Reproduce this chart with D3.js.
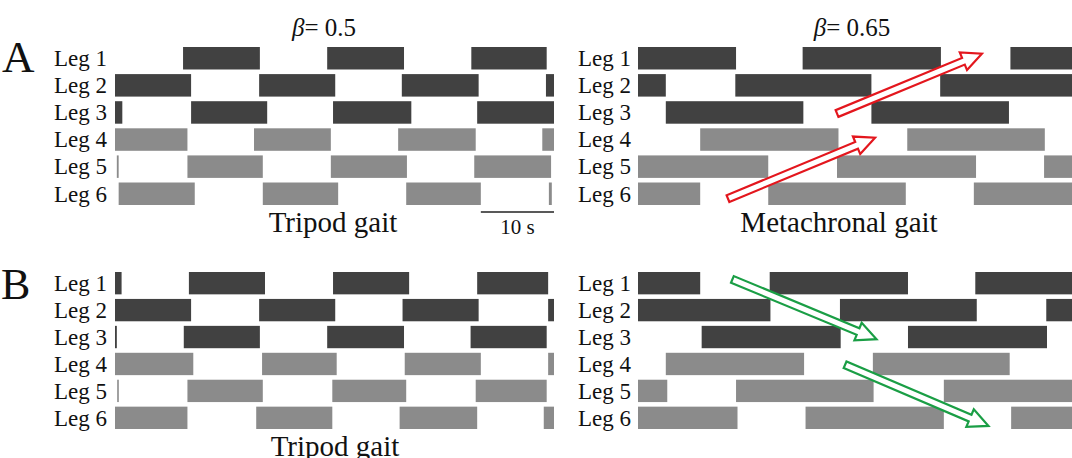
<!DOCTYPE html>
<html>
<head>
<meta charset="utf-8">
<script src="https://cdn.jsdelivr.net/npm/d3@7"></script>
<style>
  body { margin: 0; background: #fff; }
  svg { display: block; font-family: "Liberation Serif", "Times New Roman", serif; }
</style>
</head>
<body>
<div id="chart"></div>
<script>
// SVG dimensions
var svgWidth = 1072;
var svgHeight = 458;

// Legs (rows) and panel titles
var legs = ["Leg 1", "Leg 2", "Leg 3", "Leg 4", "Leg 5", "Leg 6"];
var betas = ["0.5", "0.65"];
var gaitNamesA = ["Tripod gait", "Metachronal gait"];
var gaitNamesB = ["Tripod gait", ""];

// Stance intervals [start, end] in seconds, one list per leg
var aTripod = [
  [[9.3, 19.8], [29.0, 39.5], [48.7, 59.0]],
  [[0, 10.4], [19.7, 30.1], [39.2, 49.7], [58.9, 60]],
  [[0, 1.0], [10.4, 20.8], [29.8, 40.5], [49.5, 60]],
  [[0, 9.9], [19.0, 29.5], [38.7, 49.3], [58.4, 60]],
  [[0.25, 0.5], [9.9, 20.2], [29.5, 39.9], [49.1, 59.6]],
  [[0.5, 10.9], [20.2, 30.5], [39.8, 50.0], [59.3, 59.7]]
];
var aMetachronal = [
  [[0, 13.4], [22.5, 41.4], [50.9, 60]],
  [[0, 3.8], [13.3, 31.9], [41.3, 60]],
  [[3.8, 22.6], [31.9, 50.7]],
  [[8.5, 27.4], [36.8, 55.6]],
  [[0, 17.8], [27.2, 46.2], [55.5, 60]],
  [[0, 8.5], [17.8, 36.6], [45.9, 60]]
];
var bTripod = [
  [[0, 0.9], [10.1, 20.5], [29.8, 40.2], [49.5, 59.2]],
  [[0, 10.4], [19.7, 30.1], [39.3, 49.7], [59.2, 60]],
  [[0, 0.25], [9.4, 19.8], [29.0, 39.5], [48.6, 59.0]],
  [[0, 10.7], [20.1, 30.3], [39.6, 50.0], [59.2, 60]],
  [[0.3, 0.5], [9.9, 20.2], [29.7, 39.8], [49.3, 59.0]],
  [[0, 9.9], [19.3, 29.7], [38.9, 49.5], [58.6, 60]]
];
var bMetachronal = [
  [[0, 8.5], [18.0, 36.9], [46.1, 60]],
  [[0, 18.1], [27.6, 46.3], [55.8, 60]],
  [[8.7, 27.7], [36.9, 55.9]],
  [[3.8, 22.7], [32.1, 50.8]],
  [[0, 4.0], [13.4, 32.2], [41.8, 60]],
  [[0, 13.6], [22.9, 41.8], [51.0, 60]]
];

// Wave arrows [t0, legPos0, t1, legPos1] (legPos 0 = Leg 1 centre)
var redArrows = [[27.2, 2.04, 47.0, -0.17], [12.3, 5.18, 32.4, 2.93]];
var greenArrows = [[12.9, -0.14, 32.6, 2.08], [28.3, 3.03, 47.9, 5.3]];

var darkGrey = "#414141";
var lightGrey = "#8b8b8b";

var svg = d3.select("#chart")
  .append("svg")
  .attr("width", svgWidth)
  .attr("height", svgHeight);

// x scales, one per column (60 s each)
var xLeft = d3.scaleLinear().domain([0, 60]).range([115, 554]);
var xRight = d3.scaleLinear().domain([0, 60]).range([638, 1077]);

// y scales, one per row of panels
var yA = d3.scaleBand().domain(legs).range([47, 205]).paddingInner(0.17);
var yB = d3.scaleBand().domain(legs).range([272, 429]).paddingInner(0.17);

function drawPanel(intervals, xScale, yScale, labelX) {
  var g = svg.append("g");

  // leg labels
  g.selectAll("text.leg")
    .data(legs)
    .enter()
    .append("text")
    .attr("class", "leg")
    .attr("x", labelX)
    .attr("y", d => yScale(d) + yScale.bandwidth() / 2)
    .attr("dy", "0.34em")
    .attr("text-anchor", "end")
    .attr("font-size", 23)
    .attr("fill", "#111")
    .text(d => d);

  // stance bars
  intervals.forEach(function(list, i) {
    g.selectAll(null)
      .data(list)
      .enter()
      .append("rect")
      .attr("x", d => xScale(d[0]))
      .attr("y", yScale(legs[i]))
      .attr("width", d => Math.max(1.6, xScale(d[1]) - xScale(d[0])))
      .attr("height", yScale.bandwidth())
      .attr("fill", i < 3 ? darkGrey : lightGrey);
  });
}

drawPanel(aTripod, xLeft, yA, 107);
drawPanel(aMetachronal, xRight, yA, 631);
drawPanel(bTripod, xLeft, yB, 107);
drawPanel(bMetachronal, xRight, yB, 631);

// hollow arrows
function drawArrows(list, xScale, yScale, color) {
  var step = yScale.step();
  var y0 = yScale(legs[0]) + yScale.bandwidth() / 2;
  var w = 3.6, h = 9.5, L = 20;
  svg.selectAll(null)
    .data(list)
    .enter()
    .append("polygon")
    .attr("points", function(d) {
      var ax = xScale(d[0]), ay = y0 + d[1] * step;
      var bx = xScale(d[2]), by = y0 + d[3] * step;
      var len = Math.hypot(bx - ax, by - ay);
      var ux = (bx - ax) / len, uy = (by - ay) / len;
      var nx = -uy, ny = ux;
      var cx = bx - ux * L, cy = by - uy * L;
      var pts = [
        [ax + nx * w, ay + ny * w],
        [cx + nx * w, cy + ny * w],
        [cx + nx * h, cy + ny * h],
        [bx, by],
        [cx - nx * h, cy - ny * h],
        [cx - nx * w, cy - ny * w],
        [ax - nx * w, ay - ny * w]
      ];
      return pts.map(p => p.join(",")).join(" ");
    })
    .attr("fill", "#fff")
    .attr("stroke", color)
    .attr("stroke-width", 2.2)
    .attr("stroke-linejoin", "miter");
}

drawArrows(redArrows, xRight, yA, "#e3161d");
drawArrows(greenArrows, xRight, yB, "#1a9e45");

// column titles
var titles = svg.selectAll("text.beta")
  .data(betas)
  .enter()
  .append("text")
  .attr("class", "beta")
  .attr("x", (d, i) => i === 0 ? 324 : 852)
  .attr("y", 36)
  .attr("text-anchor", "middle")
  .attr("font-size", 25)
  .attr("fill", "#111");
titles.append("tspan").attr("font-style", "italic").text("β");
titles.append("tspan").text(d => "= " + d);

// gait names
svg.selectAll("text.gaitA")
  .data(gaitNamesA)
  .enter()
  .append("text")
  .attr("x", (d, i) => i === 0 ? 333 : 839)
  .attr("y", 232)
  .attr("text-anchor", "middle")
  .attr("font-size", 29)
  .attr("fill", "#111")
  .text(d => d);

svg.selectAll("text.gaitB")
  .data(gaitNamesB)
  .enter()
  .append("text")
  .attr("x", (d, i) => i === 0 ? 335 : 839)
  .attr("y", 456)
  .attr("text-anchor", "middle")
  .attr("font-size", 29)
  .attr("fill", "#111")
  .text(d => d);

// 10 s scale bar
svg.append("line")
  .attr("x1", xLeft(50))
  .attr("x2", xLeft(60))
  .attr("y1", 212)
  .attr("y2", 212)
  .attr("stroke", "#222")
  .attr("stroke-width", 1.6);

svg.append("text")
  .attr("x", (xLeft(50) + xLeft(60)) / 2)
  .attr("y", 234)
  .attr("text-anchor", "middle")
  .attr("font-size", 21)
  .attr("fill", "#111")
  .text("10 s");

// panel letters
svg.append("text")
  .attr("x", 2)
  .attr("y", 72)
  .attr("font-size", 45)
  .attr("fill", "#111")
  .text("A");

svg.append("text")
  .attr("x", 1)
  .attr("y", 299)
  .attr("font-size", 44)
  .attr("fill", "#111")
  .text("B");
</script>
</body>
</html>
